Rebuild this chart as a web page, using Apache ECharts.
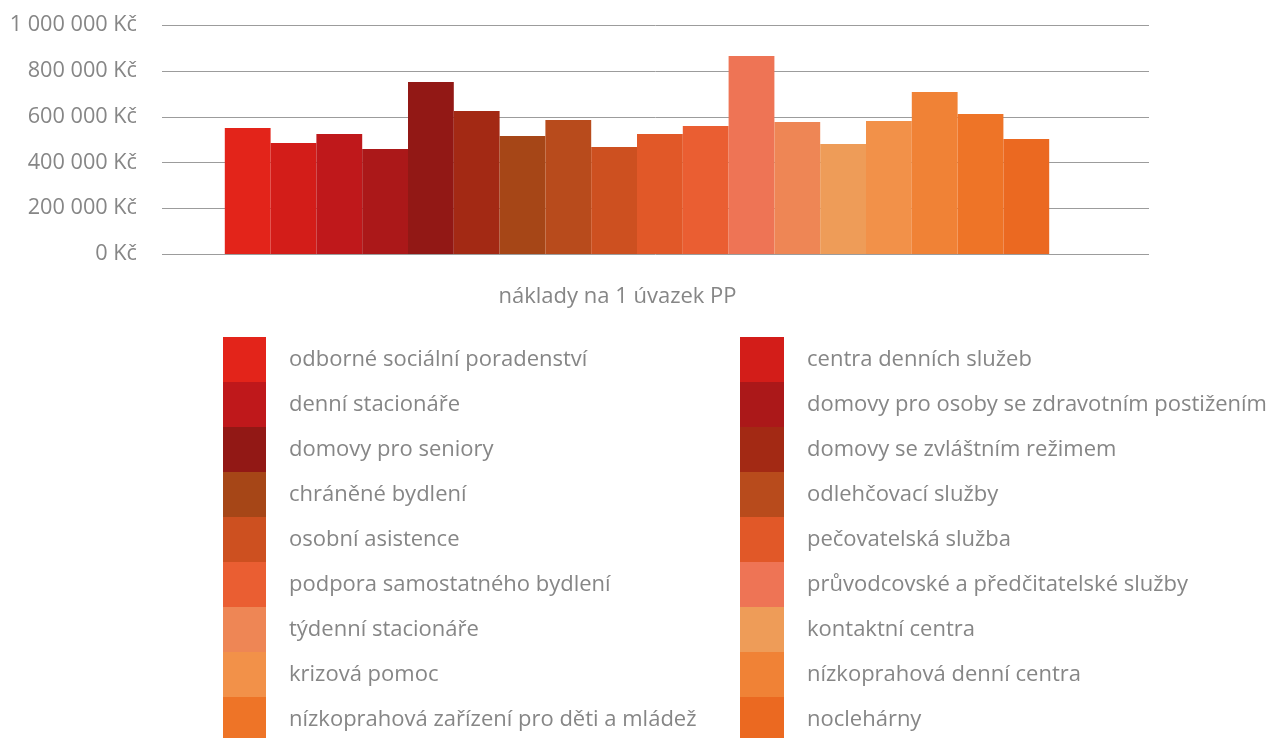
<!DOCTYPE html>
<html>
<head>
<meta charset="utf-8">
<script src="https://cdn.jsdelivr.net/npm/echarts@6/dist/echarts.min.js"></script>
<style>
  html, body { margin: 0; padding: 0; background: #fff; }
  #chart { width: 1272px; height: 738px; }
</style>
</head>
<body>
<div id="chart"></div>
<script>
// kategorie (jediná skupina na ose x)
const categories = ['náklady na 1 úvazek PP']

// druhy služeb v pořadí sloupců
const serviceNames = [
  'odborné sociální poradenství',
  'centra denních služeb',
  'denní stacionáře',
  'domovy pro osoby se zdravotním postižením',
  'domovy pro seniory',
  'domovy se zvláštním režimem',
  'chráněné bydlení',
  'odlehčovací služby',
  'osobní asistence',
  'pečovatelská služba',
  'podpora samostatného bydlení',
  'průvodcovské a předčitatelské služby',
  'týdenní stacionáře',
  'kontaktní centra',
  'krizová pomoc',
  'nízkoprahová denní centra',
  'nízkoprahová zařízení pro děti a mládež',
  'noclehárny'
]

// náklady na 1 úvazek PP (Kč)
const costs = [
  551000, 485000, 525000, 459000, 752000, 625000, 516000, 586000, 468000,
  525000, 560000, 866000, 577000, 481000, 582000, 708000, 612000, 503000
]

const barColors = [
  '#E3241A', '#D31D19', '#BF181B', '#AB1819', '#921815', '#A32914',
  '#A64617', '#B84B1C', '#CD5020', '#E15828', '#EA5E32', '#EE7455',
  '#EE8655', '#EE9C58', '#F29149', '#F08236', '#EE7427', '#EB6921'
]

// osa y
const yMin = 0
const yMax = 1000000
const yInterval = 200000

const textColor = '#868686'
const fontFamily = '"Open Sans", sans-serif'

function formatKc(value) {
  return String(value).replace(/\B(?=(\d{3})+(?!\d))/g, ' ') + ' Kč'
}

const chart = echarts.init(document.getElementById('chart'), null, { renderer: 'canvas' })

const series = serviceNames.map((name, i) => ({
  name: name,
  type: 'bar',
  xAxisIndex: 1,
  yAxisIndex: 1,
  data: [costs[i]],
  barWidth: 45.8,
  barGap: '0%',
  itemStyle: { color: barColors[i] },
  emphasis: { disabled: true }
}))

// legenda ve dvou sloupcích: liché / sudé položky
const leftNames = serviceNames.filter((n, i) => i % 2 === 0)
const rightNames = serviceNames.filter((n, i) => i % 2 === 1)

const legendBase = {
  orient: 'vertical',
  top: 337,
  height: 450,
  padding: 0,
  itemHeight: 45,
  itemGap: 0,
  icon: 'rect',
  selectedMode: false,
  textStyle: {
    color: textColor,
    fontSize: 22,
    fontFamily: fontFamily,
    padding: [0, 0, 0, 18]
  }
}

chart.setOption({
  animation: false,
  grid: [
    { left: 162, right: 123, top: 25.3, height: 228.7 },
    { left: 125, right: 123, top: 25.3, height: 228.7 }
  ],
  xAxis: [
    { gridIndex: 0, type: 'category', data: [''], show: false },
    {
      gridIndex: 1,
      type: 'category',
      data: categories,
      axisLine: { show: false },
      axisTick: { show: false },
      axisLabel: {
        color: textColor,
        fontSize: 22,
        fontFamily: fontFamily,
        margin: 32,
        padding: [0, 39, 0, 0]
      }
    }
  ],
  yAxis: [
    {
      gridIndex: 0,
      type: 'value',
      min: yMin,
      max: yMax,
      interval: yInterval,
      axisLine: { show: false },
      axisTick: { show: false },
      axisLabel: {
        color: textColor,
        fontSize: 21.7,
        fontFamily: fontFamily,
        margin: 25,
        formatter: formatKc
      },
      splitLine: { lineStyle: { color: '#9c9c9c', width: 1 } }
    },
    { gridIndex: 1, type: 'value', min: yMin, max: yMax, interval: yInterval, show: false }
  ],
  legend: [
    Object.assign({}, legendBase, { left: 223, itemWidth: 43, data: leftNames }),
    Object.assign({}, legendBase, { left: 740, itemWidth: 44, data: rightNames })
  ],
  series: series
})
</script>
</body>
</html>
